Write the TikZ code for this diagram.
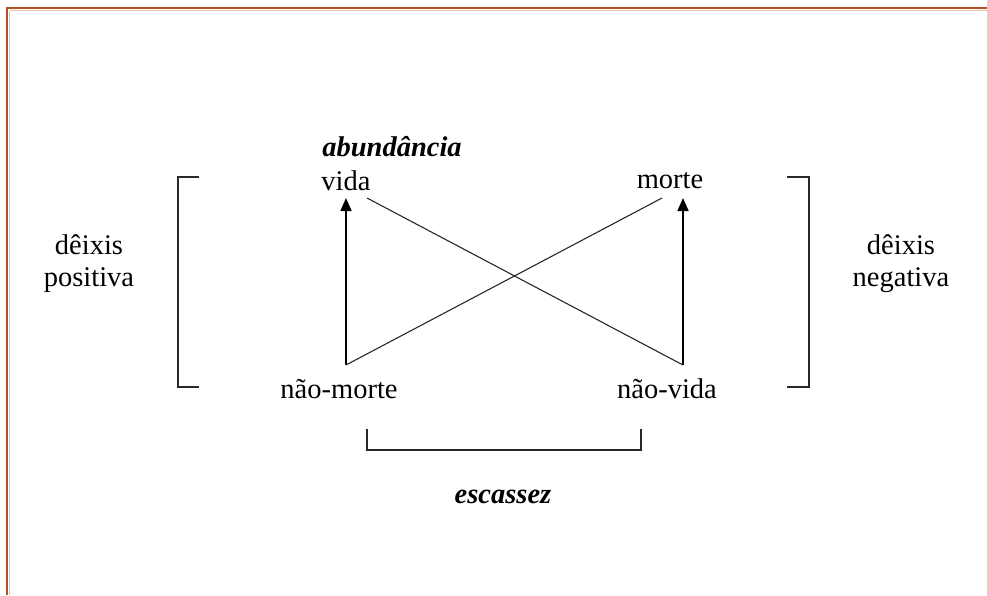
\documentclass[tikz,border=0pt]{standalone}
\usepackage{fontspec}
\setmainfont{Liberation Serif}
\usetikzlibrary{arrows.meta}
\definecolor{frame}{RGB}{178,84,40}
\definecolor{framelight}{RGB}{236,190,165}
\definecolor{ink}{RGB}{40,40,40}
\begin{document}
\begin{tikzpicture}[x=1pt,y=-1pt,
  term/.style={font=\fontsize{28.5}{32}\selectfont, inner sep=0pt, anchor=base},
  emph/.style={term, font=\fontsize{28.5}{32}\selectfont\bfseries\itshape},
  side/.style={font=\fontsize{28.5}{32}\selectfont, inner sep=0pt, align=center},
  link/.style={draw=ink, line width=1.1pt},
  arr/.style={draw=black, line width=1.6pt, -{Triangle[length=13pt,width=11pt]}},
  brk/.style={draw=ink, line width=1.4pt}]
\useasboundingbox (0,0) rectangle (987,595);

% page frame (top and left edges)
\draw[framelight, line width=1.2pt] (10,10.8) -- (987,10.8);
\draw[framelight, line width=1.2pt] (9.8,10.8) -- (9.8,595);
\draw[frame, line width=2.8pt] (5.6,8) -- (987,8);
\draw[frame, line width=2.8pt] (7,6.6) -- (7,595);

% terms of the square
\node[emph] (abund) at (392,156) {abundância};
\node[term] (vida) at (346,190) {vida};
\node[term] (morte) at (670,188) {morte};
\node[term] (naomorte) at (339,398) {não-morte};
\node[term] (naovida) at (667,398) {não-vida};
\node[emph] (escassez) at (503,503) {escassez};

% deixis labels
\node[side] (dpos) at (89,264) {dêixis\\positiva};
\node[side] (dneg) at (901,264) {dêixis\\negativa};

% connector end points
\coordinate (vtip) at (346,198);
\coordinate (mtip) at (683,198);
\coordinate (vfoot) at (346,365);
\coordinate (mfoot) at (683,365);
\coordinate (vstart) at (367,198);
\coordinate (mstart) at (662,198);

% implication arrows
\draw[arr] (vfoot) -- (vtip);
\draw[arr] (mfoot) -- (mtip);

% contradiction diagonals
\draw[link] (vstart) -- (mfoot);
\draw[link] (mstart) -- (vfoot);

% brackets
\draw[brk] (199,177) -- (178,177) -- (178,387) -- (199,387);
\draw[brk] (787,177) -- (809,177) -- (809,387) -- (787,387);
\draw[brk] (367,429) -- (367,450) -- (641,450) -- (641,429);
\end{tikzpicture}
\end{document}
